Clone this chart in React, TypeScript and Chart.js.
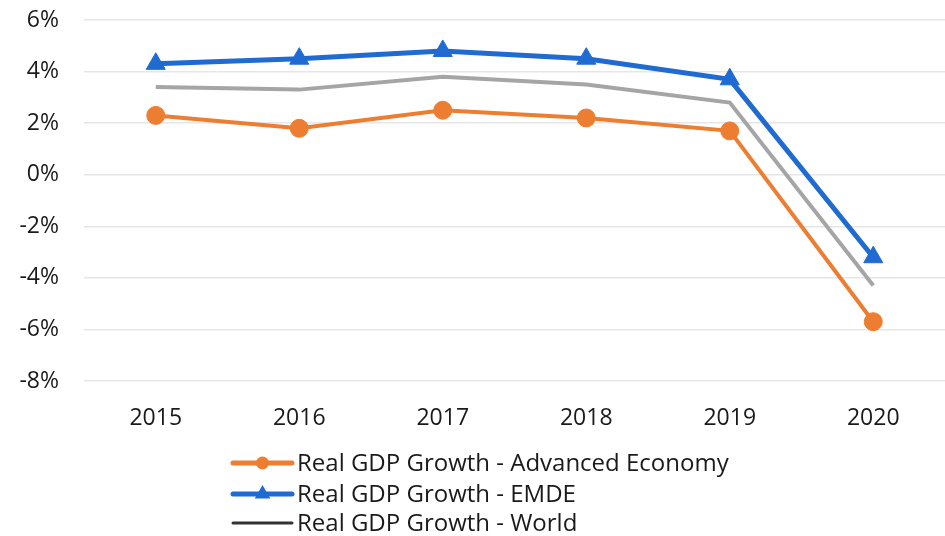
import React, { useEffect, useRef } from "react";
import { Chart, registerables } from "chart.js";

Chart.register(...registerables);

const years = ["2015", "2016", "2017", "2018", "2019", "2020"];
const advanced = [2.3, 1.8, 2.5, 2.2, 1.7, -5.7];
const emde = [4.3, 4.5, 4.8, 4.5, 3.7, -3.2];
const world = [3.4, 3.3, 3.8, 3.5, 2.8, -4.3];
const yTicks = [-8, -6, -4, -2, 0, 2, 4, 6];

const FONT = "'Open Sans', 'Liberation Sans', sans-serif";

const legendColors = ["#ed7d31", "#1f6bd1", "#333333"];

const customLegend = {
  id: "customLegend",
  afterDraw(chart: any) {
    const ctx = chart.ctx;
    const x0 = 233;
    const x1 = 292;
    const rows = [463, 494, 523];
    ctx.save();
    chart.data.datasets.forEach((ds: any, i: number) => {
      const y = rows[i];
      const color = legendColors[i];
      ctx.strokeStyle = color;
      ctx.lineWidth = i === 2 ? 3 : 5;
      ctx.lineCap = "round";
      ctx.beginPath();
      ctx.moveTo(x0, y);
      ctx.lineTo(x1, y);
      ctx.stroke();
      ctx.fillStyle = color;
      const cx = (x0 + x1) / 2;
      if (ds.pointStyle === "circle" && ds.pointRadius > 0) {
        ctx.beginPath();
        ctx.arc(cx, y, 6.5, 0, Math.PI * 2);
        ctx.fill();
      } else if (ds.pointStyle === "triangle" && ds.pointRadius > 0) {
        const r = 9;
        ctx.beginPath();
        ctx.moveTo(cx, y - r);
        ctx.lineTo(cx + r * 0.866, y + r * 0.5);
        ctx.lineTo(cx - r * 0.866, y + r * 0.5);
        ctx.closePath();
        ctx.fill();
      }
      ctx.fillStyle = "#1a1a1a";
      ctx.font = `24px ${FONT}`;
      ctx.textBaseline = "middle";
      ctx.textAlign = "left";
      ctx.fillText(ds.label, 297, y + 1);
    });
    ctx.restore();
  },
};

export default function App() {
  const ref = useRef<HTMLCanvasElement | null>(null);
  useEffect(() => {
    if (!ref.current) return;
    const chart = new Chart(ref.current, {
      type: "line",
      data: {
        labels: years,
        datasets: [
          {
            label: "Real GDP Growth - Advanced Economy",
            data: advanced,
            borderColor: "#ed7d31",
            backgroundColor: "#ed7d31",
            borderWidth: 4,
            pointStyle: "circle",
            pointRadius: 9,
            pointBorderWidth: 1,
            tension: 0,
          },
          {
            label: "Real GDP Growth - EMDE",
            data: emde,
            borderColor: "#1f6bd1",
            backgroundColor: "#1f6bd1",
            borderWidth: 5,
            pointStyle: "triangle",
            pointRadius: 11,
            pointBorderWidth: 1,
            tension: 0,
          },
          {
            label: "Real GDP Growth - World",
            data: world,
            borderColor: "#a5a5a5",
            backgroundColor: "#a5a5a5",
            borderWidth: 4,
            pointStyle: "circle",
            pointRadius: 0,
            tension: 0,
          },
        ],
      },
      options: {
        responsive: false,
        animation: false,
        layout: { autoPadding: false, padding: { top: 20, bottom: 95, left: 0, right: 0 } },
        plugins: {
          legend: { display: false },
          tooltip: { enabled: false },
        },
        scales: {
          x: {
            offset: true,
            grid: { display: false, drawTicks: false },
            border: { display: false },
            ticks: {
              padding: 24,
              color: "#1a1a1a",
              font: { family: FONT, size: 23 },
            },
            afterFit(scale: any) {
              scale.height = 60;
              scale.paddingLeft = 0;
              scale.paddingRight = 0;
            },
          },
          y: {
            min: -8,
            max: 6,
            afterBuildTicks(scale: any) {
              scale.ticks = yTicks.map((v) => ({ value: v }));
            },
            grid: { color: "#e6e6e6", lineWidth: 1.5, drawTicks: false },
            border: { display: false },
            ticks: {
              padding: 25,
              color: "#1a1a1a",
              font: { family: FONT, size: 23 },
              callback: (v: any) => `${v}%`,
            },
            afterFit(scale: any) {
              scale.width = 84;
              scale.paddingTop = 0;
              scale.paddingBottom = 0;
            },
          },
        },
      },
      plugins: [customLegend],
    });
    return () => chart.destroy();
  }, []);
  return (
    <div style={{ position: "fixed", left: 0, top: 0, width: 945, height: 536, background: "#fff" }}>
      <canvas ref={ref} width={945} height={536} style={{ width: 945, height: 536 }} />
    </div>
  );
}
